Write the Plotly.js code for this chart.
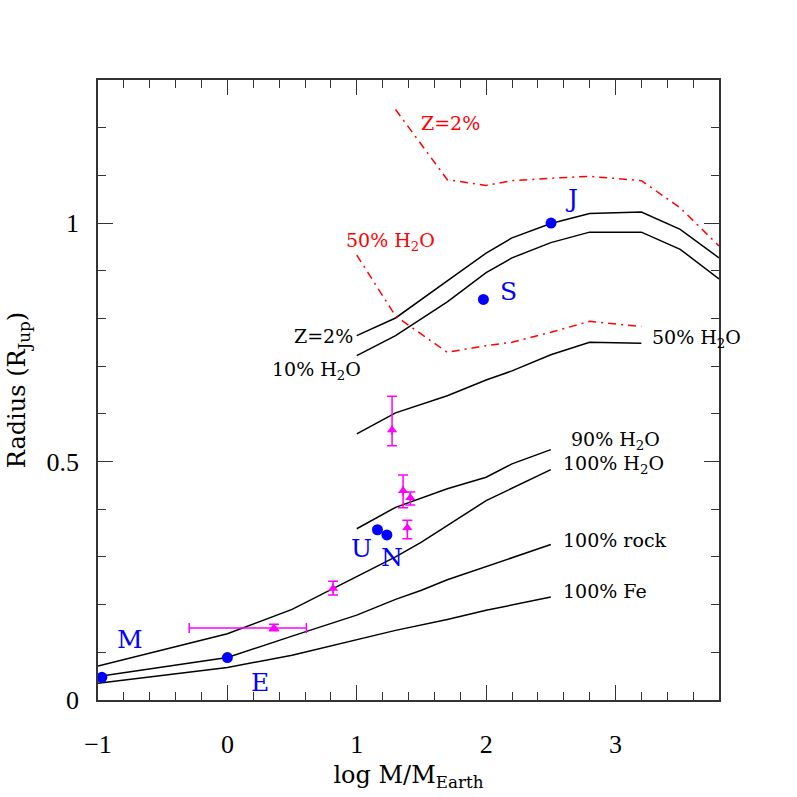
<!DOCTYPE html>
<html>
<head>
<meta charset="utf-8">
<script src="https://cdn.plot.ly/plotly-3.0.1.min.js"></script>
<style>
  body { margin: 0; background: #fff; }
  #chart { width: 797px; height: 797px; }
</style>
</head>
<body>
<div id="chart"></div>
<script>
'use strict'

// model curves, log M/M_Earth vs radius in R_Jup
var z2X = [1.0, 1.3, 1.7, 2.0, 2.2, 2.5, 2.8, 3.2, 3.5, 3.8];
var z2Y = [0.764, 0.801, 0.879, 0.937, 0.969, 0.999, 1.020, 1.023, 0.987, 0.927];
var h10Y = [0.722, 0.764, 0.835, 0.896, 0.927, 0.959, 0.981, 0.981, 0.945, 0.883];

var h50X = [1.0, 1.3, 1.7, 2.0, 2.2, 2.5, 2.8, 3.2];
var h50Y = [0.558, 0.602, 0.638, 0.671, 0.690, 0.724, 0.750, 0.748];

var h90X = [1.0, 1.3, 1.7, 2.0, 2.2, 2.5];
var h90Y = [0.359, 0.404, 0.443, 0.467, 0.495, 0.525];

var h100X = [-1.0, 0.0, 0.5, 1.0, 1.3, 1.5, 1.7, 2.0, 2.5];
var h100Y = [0.071, 0.139, 0.190, 0.258, 0.300, 0.331, 0.366, 0.418, 0.483];

var rockX = [-1.0, 0.0, 0.5, 1.0, 1.3, 1.5, 1.7, 2.0, 2.5];
var rockY = [0.049, 0.089, 0.134, 0.178, 0.211, 0.230, 0.252, 0.280, 0.326];

var feX = [-1.0, 0.0, 0.5, 1.0, 1.3, 1.7, 2.0, 2.5];
var feY = [0.035, 0.068, 0.094, 0.126, 0.146, 0.169, 0.188, 0.216];

// red dash-dot curves
var redZ2X = [1.3, 1.7, 2.0, 2.2, 2.5, 2.8, 3.2, 3.5, 3.8];
var redZ2Y = [1.238, 1.091, 1.079, 1.089, 1.094, 1.098, 1.089, 1.032, 0.952];
var red50X = [1.0, 1.3, 1.7, 2.0, 2.2, 2.5, 2.8, 3.2];
var red50Y = [0.933, 0.805, 0.729, 0.743, 0.750, 0.771, 0.794, 0.783];

// solar system planets
var planetNames = ['M', 'E', 'U', 'N', 'S', 'J'];
var planetX = [-0.97, 0.0, 1.16, 1.233, 1.979, 2.502];
var planetY = [0.0475, 0.089, 0.357, 0.346, 0.840, 1.0];

// transiting planets with error bars
var obsX = [0.36, 0.817, 1.273, 1.358, 1.414, 1.391];
var obsY = [0.151, 0.234, 0.566, 0.439, 0.424, 0.361];
var obsYPlus = [0.008, 0.015, 0.071, 0.033, 0.012, 0.016];
var obsYMinus = [0.006, 0.014, 0.033, 0.036, 0.015, 0.023];
var obsXPlus = [0.251, 0, 0, 0, 0, 0];
var obsXMinus = [0.655, 0, 0, 0, 0, 0];

function solid(x, y) {
    return { x: x, y: y, mode: 'lines', line: { color: 'black', width: 1.5 },
             hoverinfo: 'skip', showlegend: false };
}
function dashdot(x, y) {
    return { x: x, y: y, mode: 'lines', line: { color: 'red', width: 1.5, dash: '8px,5px,2px,5px' },
             hoverinfo: 'skip', showlegend: false };
}

var data = [
    solid(z2X, z2Y),
    solid(z2X, h10Y),
    solid(h50X, h50Y),
    solid(h90X, h90Y),
    solid(h100X, h100Y),
    solid(rockX, rockY),
    solid(feX, feY),
    dashdot(redZ2X, redZ2Y),
    dashdot(red50X, red50Y),
    {
        x: planetX, y: planetY, mode: 'markers',
        marker: { color: 'blue', size: 11 }, cliponaxis: false,
        showlegend: false
    },
    {
        x: obsX, y: obsY, mode: 'markers',
        marker: { color: 'magenta', size: 9, symbol: 'triangle-up' },
        error_y: { type: 'data', symmetric: false, array: obsYPlus, arrayminus: obsYMinus,
                   color: 'magenta', thickness: 1.5, width: 5 },
        error_x: { type: 'data', symmetric: false, array: obsXPlus, arrayminus: obsXMinus,
                   color: 'magenta', thickness: 1.5, width: 5 },
        showlegend: false
    }
];

var labelFont = { family: 'DejaVu Serif', size: 19, color: 'black' };
var redFont = { family: 'DejaVu Serif', size: 19, color: 'red' };
var planetFont = { family: 'DejaVu Serif', size: 25, color: 'blue' };

var curveLabels = [
    { text: 'Z=2%', x: 0.99, y: 0.764, xanchor: 'right', font: labelFont },
    { text: '10% H<sub>2</sub>O', x: 1.05, y: 0.690, xanchor: 'right', font: labelFont },
    { text: '50% H<sub>2</sub>O', x: 3.27, y: 0.758, xanchor: 'left', font: labelFont },
    { text: '90% H<sub>2</sub>O', x: 2.64, y: 0.545, xanchor: 'left', font: labelFont },
    { text: '100% H<sub>2</sub>O', x: 2.58, y: 0.493, xanchor: 'left', font: labelFont },
    { text: '100% rock', x: 2.58, y: 0.336, xanchor: 'left', font: labelFont },
    { text: '100% Fe', x: 2.58, y: 0.228, xanchor: 'left', font: labelFont },
    { text: 'Z=2%', x: 1.48, y: 1.21, xanchor: 'left', font: redFont },
    { text: '50% H<sub>2</sub>O', x: 0.9, y: 0.961, xanchor: 'left', font: redFont }
];
var planetLabelPos = [[-0.75, 0.127], [0.25, 0.036], [1.04, 0.317], [1.27, 0.298], [2.17, 0.857], [2.66, 1.052]];

var annotations = curveLabels.map(function (a) {
    return { text: a.text, x: a.x, y: a.y, xref: 'x', yref: 'y', xanchor: a.xanchor,
             yanchor: 'middle', showarrow: false, font: a.font };
});
planetNames.forEach(function (n, i) {
    annotations.push({ text: n, x: planetLabelPos[i][0], y: planetLabelPos[i][1], xref: 'x', yref: 'y',
                       showarrow: false, font: planetFont });
});

var axisFont = { family: 'Liberation Serif', size: 26, color: 'black' };

var layout = {
    width: 797,
    height: 797,
    margin: { l: 98, r: 78, t: 80, b: 97 },
    paper_bgcolor: 'white',
    plot_bgcolor: 'white',
    showlegend: false,
    font: axisFont,
    xaxis: {
        range: [-1, 3.8],
        tickvals: [-1, 0, 1, 2, 3],
        ticktext: ['\u22121', '0', '1', '2', '3'],
        ticks: 'inside', ticklen: 15, tickwidth: 1.2, tickcolor: '#333',
        minor: { dtick: 0.2, tick0: 0, ticks: 'inside', ticklen: 8, tickwidth: 1.2, tickcolor: '#333' },
        showline: true, mirror: 'allticks', linecolor: '#333', linewidth: 1.5,
        showgrid: false, zeroline: false,
        ticklabelstandoff: 20,
        tickfont: axisFont,
        title: { text: 'log M/M<sub>Earth</sub>', font: { family: 'DejaVu Serif', size: 24, color: 'black' }, standoff: 8 }
    },
    yaxis: {
        range: [0, 1.3],
        tickvals: [0, 0.5, 1],
        ticktext: ['0', '0.5', '1'],
        ticks: 'inside', ticklen: 15, tickwidth: 1.2, tickcolor: '#333',
        minor: { dtick: 0.1, tick0: 0, ticks: 'inside', ticklen: 8, tickwidth: 1.2, tickcolor: '#333' },
        showline: true, mirror: 'allticks', linecolor: '#333', linewidth: 1.5,
        showgrid: false, zeroline: false,
        ticklabelstandoff: 12,
        tickfont: axisFont,
        title: { text: 'Radius (R<sub>Jup</sub>)', font: { family: 'DejaVu Serif', size: 24, color: 'black' }, standoff: 14 }
    },
    annotations: annotations
};

Plotly.newPlot('chart', data, layout, { displayModeBar: false });
</script>
</body>
</html>
